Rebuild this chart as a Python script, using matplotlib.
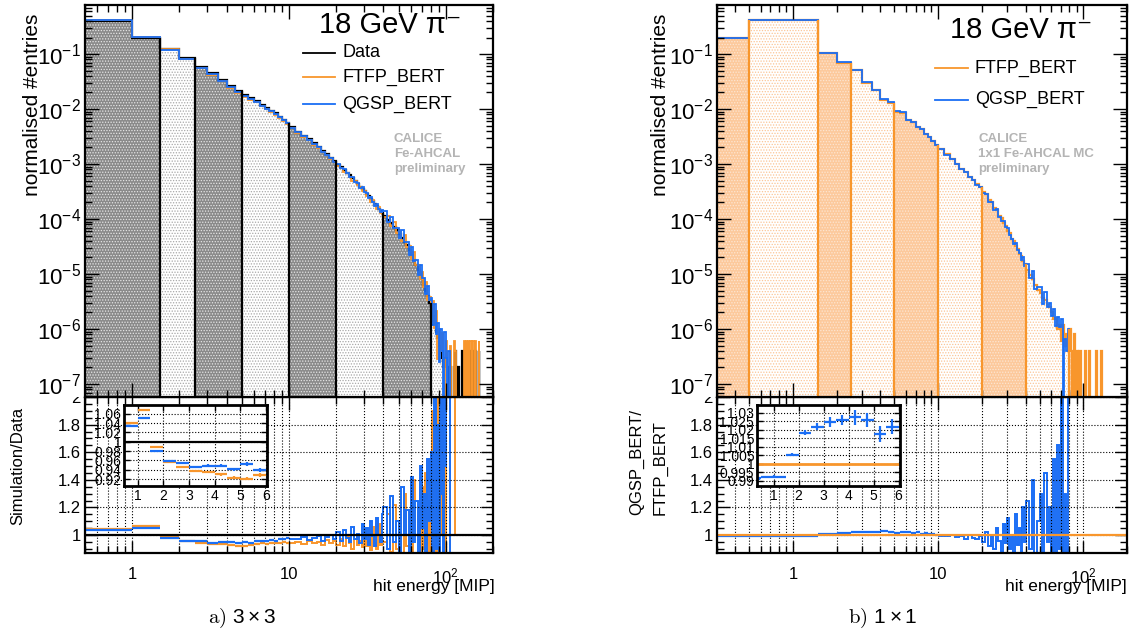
import numpy as np
import matplotlib
matplotlib.use("Agg")
import matplotlib.pyplot as plt
from matplotlib.patches import Rectangle
from matplotlib.ticker import (LogLocator, MultipleLocator, FixedLocator,
                               NullFormatter, FixedFormatter, FormatStrFormatter)

plt.rcParams['font.family'] = ['Liberation Sans', 'DejaVu Sans']
plt.rcParams['mathtext.fontset'] = 'custom'
plt.rcParams['mathtext.rm'] = 'Liberation Sans'
plt.rcParams['mathtext.it'] = 'Liberation Sans:italic'
plt.rcParams['mathtext.default'] = 'regular'
plt.rcParams['hatch.linewidth'] = 0.6

ORANGE = '#f8962c'
BLUE = '#1a6ef5'

# ---------------- 3x3 (left) : bins in MIP ----------------
edges_left = np.concatenate([np.arange(0.5, 10.0, 0.5), np.arange(10, 40, 1.0),
                             np.arange(40, 170.1, 2.0)])

data_left = np.array([
    # 0.5 - 10 (0.5 MIP bins)
    0.40, 0.195, 0.123, 0.085, 0.058, 0.045, 0.034, 0.0264, 0.0214, 0.0182,
    0.016, 0.0141, 0.012, 0.0106, 0.0094, 0.0083, 0.0073, 0.0064, 0.0056,
    # 10 - 40 (1 MIP bins)
    4.7e-3, 3.9e-3, 3.3e-3, 2.8e-3, 2.4e-3, 2.05e-3, 1.75e-3, 1.5e-3, 1.3e-3, 1.13e-3,
    9.8e-4, 8.7e-4, 7.8e-4, 6.9e-4, 6.2e-4, 5.5e-4, 4.9e-4, 4.4e-4, 3.9e-4, 3.5e-4,
    3.2e-4, 2.85e-4, 2.6e-4, 2.3e-4, 2.1e-4, 1.9e-4, 1.7e-4, 1.55e-4, 1.4e-4, 1.27e-4,
    # 40 - 80 (2 MIP bins)
    1.15e-4, 9.8e-5, 8.4e-5, 7.3e-5, 6.3e-5, 5.4e-5, 4.6e-5, 3.9e-5, 3.3e-5, 2.7e-5,
    2.2e-5, 1.8e-5, 1.45e-5, 1.2e-5, 9.8e-6, 8.0e-6, 6.4e-6, 5.0e-6, 3.9e-6, 3.0e-6,
    # 80 - 170
    2.3e-6, 1.7e-6, 1.3e-6, 9e-7, 7e-7, 5e-7, 4e-7, 3e-7, 2e-7, 3e-7,
    2e-7, 0, 2e-7, 2e-7, 0, 0, 2e-7, 4e-7, 0, 0,
    2e-7, 0, 0, 4e-7, 0, 2e-7, 0, 4e-7, 0, 4e-7,
    0, 4e-7, 4e-7, 0, 4e-7, 4e-7, 0, 4e-7, 0, 0,
    0, 4e-7, 0, 0, 0])

nan = np.nan
ratio_ftfp_left = np.array([
    1.041, 1.069, 0.989, 0.957, 0.946, 0.938, 0.935, 0.930, 0.923, 0.921,
    0.929, 0.935, 0.94, 0.935, 0.945, 0.94, 0.945, 0.95, 0.945,
    0.945, 0.95, 0.935, 0.96, 0.94, 0.95, 0.93, 0.965, 0.94, 0.955,
    0.93, 0.97, 0.92, 0.99, 0.94, 0.90, 1.0, 0.93, 0.96, 0.91,
    1.03, 0.92, 0.97, 0.89, 1.06, 0.94, 0.90, 1.08, 0.93, 0.96,
    0.95, 1.15, 0.88, 1.22, 0.90, 1.10, 0.85, 1.30, 0.92, 1.18,
    0.84, 1.40, 1.0, 1.20, 0.82, 1.35, 0.90, 1.45, 0.85, 1.25,
    0.6, 1.9, 0.8, 2.4, 0.4, 2.0, 1.0, 2.8, 1.5, 0.0,
    3.0, nan, 0.0, 2.5, nan, nan, 3.0, 1.0, nan, nan,
    0.0, nan, nan, 0.0, nan, 3.0, nan, 1.5, nan, 1.5,
    nan, 1.5, 1.5, nan, 1.5, 1.5, nan, 1.5, nan, nan,
    nan, 1.5, nan, nan, nan])

ratio_qgsp_left = np.array([
    1.034, 1.052, 0.981, 0.958, 0.955, 0.946, 0.949, 0.949, 0.941, 0.952,
    0.939, 0.955, 0.96, 0.955, 0.965, 0.96, 0.975, 0.97, 0.98,
    0.975, 0.97, 0.985, 0.965, 0.98, 0.99, 0.96, 0.985, 1.0, 0.97,
    1.02, 0.96, 1.04, 0.98, 0.95, 1.06, 0.97, 1.01, 0.94, 1.08,
    0.97, 1.05, 0.93, 1.10, 0.99, 0.92, 1.12, 1.0, 0.95, 1.15,
    1.20, 0.90, 1.28, 0.95, 1.10, 0.85, 1.35, 1.0, 1.18, 0.82,
    1.42, 0.95, 1.25, 0.80, 1.50, 1.05, 1.30, 0.85, 1.55, 1.10,
    1.6, 0.7, 2.2, 0.9, 1.8, 0.5, 2.5, 1.3, 0.0, 3.0,
    1.5, nan, 2.0, 0.0, nan, nan, 0.0, 0.0, nan, nan,
    0.0, nan, nan, 0.0, nan, 0.0, nan, 0.0, nan, 0.0,
    nan, 0.0, 0.0, nan, 0.0, 0.0, nan, 0.0, nan, nan,
    nan, 0.0, nan, nan, nan])

# stat. errors of the first bins (inset)
err_ftfp_left = [0.001, 0.001, 0.001, 0.0015, 0.002, 0.002, 0.0025, 0.003, 0.003, 0.0035, 0.004]
err_qgsp_left = [0.001, 0.001, 0.001, 0.0015, 0.002, 0.002, 0.0025, 0.003, 0.0035, 0.0035, 0.004]

bands_left = [0.5, 1.5, 2.5, 5, 10, 20, 40, 80, 170]

# ---------------- 1x1 (right) ----------------
edges_right = np.concatenate([[0.3, 0.5], np.arange(1.5, 10.0, 0.5), np.arange(10, 40, 1.0),
                              np.arange(40, 200.1, 2.0)])

ftfp_right = np.array([
    0.195, 0.42,
    0.104, 0.069, 0.051, 0.030, 0.022, 0.0146, 0.0129, 0.0089, 0.0085,
    0.0062, 0.0058, 0.0047, 0.0043, 0.0035, 0.0031, 0.0026, 0.0022,
    1.85e-3, 1.5e-3, 1.22e-3, 1.02e-3, 8.2e-4, 7.2e-4, 5.9e-4, 5.2e-4, 4.3e-4, 3.8e-4,
    3.1e-4, 2.8e-4, 2.25e-4, 2.0e-4, 1.6e-4, 1.45e-4, 1.15e-4, 1.05e-4, 8.4e-5, 7.6e-5,
    6.1e-5, 5.6e-5, 4.4e-5, 4.0e-5, 3.2e-5, 2.9e-5, 2.3e-5, 2.1e-5, 1.7e-5, 1.5e-5,
    1.2e-5, 9.5e-6, 8.2e-6, 6.3e-6, 5.2e-6, 4.5e-6, 3.6e-6, 3.3e-6, 2.7e-6, 2.5e-6,
    2.0e-6, 1.5e-6, 1.6e-6, 1.0e-6, 1.2e-6, 6e-7, 1.2e-6, 5e-7, 8e-7, 4e-7,
    1.0e-6, 4e-7, 0, 8e-7, 0, 4e-7, 0, 4e-7, 0, 0,
    0, 4e-7, 0, 0, 0, 4e-7, 0, 0, 0, 0,
    0, 4e-7, 0, 0, 0, 0, 4e-7, 0, 0, 0,
    0, 0, 0, 0, 0, 0, 0, 0, 0, 0,
    0, 0, 0, 0, 0, 0, 0, 0, 0, 0,
    0, 0, 0, 0, 0, 0, 0, 0, 0, 0])

ratio_right = np.array([
    0.9914, 0.9924,
    1.0053, 1.0182, 1.0218, 1.0247, 1.0257, 1.0273, 1.0257, 1.0175, 1.0218,
    1.02, 1.015, 1.02, 1.01, 1.015, 1.005, 1.01, 1.0,
    0.995, 0.99, 1.0, 0.985, 0.99, 0.975, 1.0, 0.98, 0.97, 0.99,
    0.95, 1.02, 0.92, 1.0, 0.90, 1.05, 0.96, 0.88, 1.08, 0.94,
    1.12, 0.90, 1.0, 0.87, 1.15, 0.93, 1.05, 0.86, 1.20, 0.95,
    1.25, 0.90, 1.40, 0.85, 1.10, 1.30, 0.80, 1.45, 0.95, 1.20,
    0.85, 1.55, 0.70, 1.65, 0.90, 2.5, 0.0, 1.30, 0.5, 2.5,
    0, 0, 0, 0, 0, 0, 0, 0, 0, 0,
    0, 0, 0, 0, 0, 0, 0, 0, 0, 0,
    0, 0, 0, 0, 0, 0, 0, 0, 0, 0,
    0, 0, 0, 0, 0, 0, 0, 0, 0, 0,
    0, 0, 0, 0, 0, 0, 0, 0, 0, 0,
    0, 0, 0, 0, 0, 0, 0, 0, 0, 0])

err_right = [0.0008, 0.0008, 0.001, 0.0015, 0.002, 0.003, 0.003, 0.0045, 0.004, 0.0045, 0.0045]

bands_right = [0.3, 0.5, 1.5, 2.5, 5, 10, 20, 40, 80, 200]

# simulated spectra from data x ratio
ftfp_left = np.where(np.isnan(ratio_ftfp_left), 0.0, data_left * np.nan_to_num(ratio_ftfp_left))
qgsp_left = np.where(np.isnan(ratio_qgsp_left), 0.0, data_left * np.nan_to_num(ratio_qgsp_left))
qgsp_right = ftfp_right * ratio_right

W, H = 1137, 639
fig = plt.figure(figsize=(W / 100, H / 100), dpi=100)
fig.patch.set_facecolor('white')


def rect(x0, y0, x1, y1):
    return [x0 / W, 1 - y1 / H, (x1 - x0) / W, (y1 - y0) / H]


def pos(v):
    return np.where(v > 0, v, 1e-12)


def frame(ax, lw=1.6):
    for s in ax.spines.values():
        s.set_linewidth(lw)
    ax.tick_params(which='both', direction='in', top=True, right=True, width=1.0)


def draw_bands(ax, edges, vals, bounds, dark, light, dotdark, dotlight, outline):
    for i in range(len(bounds) - 1):
        idx = np.where((edges[:-1] >= bounds[i] - 1e-9) & (edges[1:] <= bounds[i + 1] + 1e-9))[0]
        e = edges[idx[0]:idx[-1] + 2]
        v = pos(vals[idx])
        fc, dc = (dark, dotdark) if i % 2 == 0 else (light, dotlight)
        ax.stairs(v, e, baseline=1e-12, fill=True, facecolor=fc, edgecolor='none', lw=0)
        ax.stairs(v, e, baseline=1e-12, fill=True, facecolor='none', edgecolor=dc,
                  hatch='......', lw=0)
    ax.stairs(pos(vals), edges, baseline=None, color=outline, lw=1.6)
    for b in bounds[1:-1]:
        j = np.searchsorted(edges, b - 1e-9)
        top = max(vals[j - 1], vals[j]) if j < len(vals) else vals[j - 1]
        ax.vlines(b, 1e-12, top, color=outline, lw=1.6)


def top_axes(ax, xlim):
    ax.set_xscale('log')
    ax.set_yscale('log')
    ax.set_xlim(*xlim)
    ax.set_ylim(5.8e-8, 0.78)
    ax.xaxis.set_major_locator(FixedLocator([1, 10, 100]))
    ax.xaxis.set_minor_locator(LogLocator(base=10, subs=np.arange(2, 10), numticks=20))
    ax.yaxis.set_major_locator(LogLocator(base=10, numticks=20))
    ax.yaxis.set_minor_locator(LogLocator(base=10, subs=np.arange(2, 10), numticks=20))
    ax.xaxis.set_minor_formatter(NullFormatter())
    ax.yaxis.set_minor_formatter(NullFormatter())
    frame(ax)
    ax.tick_params(which='major', length=10)
    ax.tick_params(which='minor', length=5)
    ax.tick_params(axis='x', labelbottom=False)
    ax.tick_params(axis='y', labelsize=16, pad=3)


def ratio_axes(ax, xlim):
    ax.set_xscale('log')
    ax.set_xlim(*xlim)
    ax.set_ylim(0.87, 2.0)
    ax.xaxis.set_major_locator(FixedLocator([1, 10, 100]))
    ax.xaxis.set_major_formatter(FixedFormatter(['1', '10', r'$10^{2}$']))
    ax.xaxis.set_minor_locator(LogLocator(base=10, subs=np.arange(2, 10), numticks=20))
    ax.xaxis.set_minor_formatter(NullFormatter())
    ax.yaxis.set_major_locator(MultipleLocator(0.2))
    ax.yaxis.set_minor_locator(MultipleLocator(0.05))
    ax.yaxis.set_major_formatter(FormatStrFormatter('%g'))
    frame(ax)
    ax.tick_params(which='major', length=9)
    ax.tick_params(which='minor', length=5)
    ax.tick_params(axis='x', labelsize=12, pad=10)
    ax.tick_params(axis='y', labelsize=12, pad=3)
    ax.grid(which='both', axis='x', ls=':', color='black', lw=0.8)
    ax.grid(which='major', axis='y', ls=':', color='black', lw=0.8)


def inset_axes(ax, xlim, ylim, ystep):
    ax.set_xlim(*xlim)
    ax.set_ylim(*ylim)
    ax.xaxis.set_major_locator(MultipleLocator(1))
    ax.yaxis.set_major_locator(MultipleLocator(ystep))
    ax.yaxis.set_major_formatter(FormatStrFormatter('%g'))
    frame(ax, lw=2.0)
    ax.tick_params(which='major', length=4, labelsize=10, pad=2)
    ax.grid(which='major', ls=':', color='black', lw=0.8)


def ratio_lines(ax, edges, ratio, color, emax):
    c = 0.5 * (edges[:-1] + edges[1:])
    lo, hi = edges[:-1], edges[1:]
    sm = c < 10
    ax.hlines(ratio[sm], lo[sm], hi[sm], color=color, lw=1.6)
    idx = np.where((c >= 10) & (c < emax))[0]
    ax.stairs(ratio[idx], edges[idx[0]:idx[-1] + 2], baseline=None, color=color, lw=1.4)


def legend_and_text(ax, title_x, title_y, entries, text_x, calice, cal_x):
    ax.text(title_x, title_y, '18 GeV π\u207b', transform=ax.transAxes,
            fontsize=21, ha='center', va='center')
    for (lx0, lx1, ly, col, lab) in entries:
        ax.plot([lx0, lx1], [ly, ly], color=col, lw=1.3, transform=ax.transAxes)
        ax.text(text_x, ly, lab, transform=ax.transAxes, fontsize=13, ha='left', va='center')
    ax.text(cal_x, 0.62, calice, transform=ax.transAxes, fontsize=9.5, fontweight='bold',
            color='#b4b4b4', ha='left', va='center', linespacing=1.3)


# ---------------- left panel ----------------
axL = fig.add_axes(rect(85, 5, 493, 397), zorder=3)
axLr = fig.add_axes(rect(85, 397, 493, 553), zorder=1)
top_axes(axL, (0.5, 200))
draw_bands(axL, edges_left, data_left, bands_left, '#8a8a8a', 'white', '#e6e6e6', '#a8a8a8', 'black')
axL.stairs(pos(ftfp_left), edges_left, baseline=None, color=ORANGE, lw=1.3)
axL.stairs(pos(qgsp_left), edges_left, baseline=None, color=BLUE, lw=1.3)
legend_and_text(axL, 0.748, 0.949,
                [(0.534, 0.613, 0.878, 'black', 'Data'),
                 (0.534, 0.613, 0.816, ORANGE, 'FTFP_BERT'),
                 (0.534, 0.613, 0.747, BLUE, 'QGSP_BERT')],
                0.630, 'CALICE\nFe-AHCAL\npreliminary', 0.757)

ratio_axes(axLr, (0.5, 200))
ratio_lines(axLr, edges_left, ratio_ftfp_left, ORANGE, 126)
ratio_lines(axLr, edges_left, ratio_qgsp_left, BLUE, 126)
axLr.axhline(1.0, color='black', lw=1.6)

insL = fig.add_axes(rect(124, 405, 267, 486), zorder=5)
inset_axes(insL, (0.47, 6.04), (0.905, 1.079), 0.02)
cL = 0.5 * (edges_left[:11] + edges_left[1:12])
hwL = 0.5 * (edges_left[1:12] - edges_left[:11])
insL.errorbar(cL, ratio_ftfp_left[:11], xerr=hwL, yerr=err_ftfp_left, fmt='none',
              ecolor=ORANGE, elinewidth=1.6)
insL.errorbar(cL, ratio_qgsp_left[:11], xerr=hwL, yerr=err_qgsp_left, fmt='none',
              ecolor=BLUE, elinewidth=1.6)
insL.axhline(1.0, color='black', lw=1.6)

# ---------------- right panel ----------------
axR = fig.add_axes(rect(717, 5, 1127, 397), zorder=3)
axRr = fig.add_axes(rect(717, 397, 1127, 553), zorder=1)
top_axes(axR, (0.3, 200))
draw_bands(axR, edges_right, ftfp_right, bands_right, '#fcc99c', 'white', '#fde6d2', '#fbc596', ORANGE)
axR.stairs(pos(qgsp_right), edges_right, baseline=None, color=BLUE, lw=1.3)
legend_and_text(axR, 0.741, 0.936,
                [(0.532, 0.612, 0.839, ORANGE, 'FTFP_BERT'),
                 (0.532, 0.612, 0.758, BLUE, 'QGSP_BERT')],
                0.629, 'CALICE\n1x1 Fe-AHCAL MC\npreliminary', 0.637)

ratio_axes(axRr, (0.3, 200))
ratio_lines(axRr, edges_right, ratio_right, BLUE, 80)
axRr.axhline(1.0, color=ORANGE, lw=1.6)

insR = fig.add_axes(rect(757, 405, 900, 486), zorder=5)
inset_axes(insR, (0.33, 6.06), (0.987, 1.0345), 0.005)
cR = 0.5 * (edges_right[:11] + edges_right[1:12])
hwR = 0.5 * (edges_right[1:12] - edges_right[:11])
insR.errorbar(cR, ratio_right[:11], xerr=hwR, yerr=err_right, fmt='none',
              ecolor=BLUE, elinewidth=1.6)
insR.axhline(1.0, color=ORANGE, lw=2.0)

# white masks so the top pads hide the upper half of the "2" labels
fig.patches.append(Rectangle((0, 1 - 397 / H), 85 / W, 397 / H, transform=fig.transFigure,
                             facecolor='white', edgecolor='none', zorder=2))
fig.patches.append(Rectangle((600 / W, 1 - 397 / H), 117 / W, 397 / H, transform=fig.transFigure,
                             facecolor='white', edgecolor='none', zorder=2))

# axis titles
fig.text(33 / W, 1 - 105 / H, 'normalised #entries', rotation=90, fontsize=15, ha='center', va='center')
fig.text(660 / W, 1 - 105 / H, 'normalised #entries', rotation=90, fontsize=15, ha='center', va='center')
fig.text(18 / W, 1 - 466 / H, 'Simulation/Data', rotation=90, fontsize=12, ha='center', va='center')
fig.text(637 / W, 1 - 515 / H, 'QGSP_BERT/', rotation=90, fontsize=12, ha='center', va='bottom')
fig.text(660 / W, 1 - 515 / H, 'FTFP_BERT', rotation=90, fontsize=12, ha='center', va='bottom')
fig.text(495 / W, 1 - 586 / H, 'hit energy [MIP]', fontsize=12.5, ha='right', va='center')
fig.text(1127 / W, 1 - 586 / H, 'hit energy [MIP]', fontsize=12.5, ha='right', va='center')

# captions
fig.text(242 / W, 1 - 618 / H, r'$\mathrm{a)}\ 3\times3$', math_fontfamily='cm', fontsize=15,
         ha='center', va='center')
fig.text(883 / W, 1 - 618 / H, r'$\mathrm{b)}\ 1\times1$', math_fontfamily='cm', fontsize=15,
         ha='center', va='center')

fig.savefig('out.png', dpi=100, facecolor='white')
